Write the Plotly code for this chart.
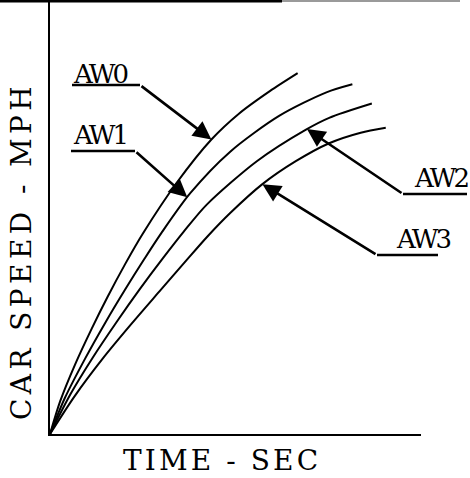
import numpy as np
import plotly.graph_objects as go

# Time (sec) and car speed (mph) for each load condition
t_aw0 = [0, 1.1, 2.7, 4.5, 6.2, 8.1, 10.0, 13.7, 17.4, 20.4, 23.7, 26.7]
v_aw0 = [0, 5.3, 11.2, 17.0, 22.1, 27.4, 32.3, 40.6, 47.5, 51.7, 55.3, 58.2]

t_aw1 = [0, 1.6, 3.8, 5.9, 8.1, 10.2, 12.0, 15.1, 19.4, 24.7, 29.8, 32.6]
v_aw1 = [0, 5.8, 12.2, 17.8, 23.3, 28.3, 32.4, 38.8, 45.5, 51.3, 55.1, 56.4]

t_aw2 = [0, 2.2, 4.6, 7.2, 9.7, 12.2, 14.4, 16.9, 22.3, 27.6, 30.1, 34.7]
v_aw2 = [0, 6.4, 12.3, 18.1, 23.4, 28.4, 32.6, 37.0, 44.0, 49.1, 51.0, 53.3]

t_aw3 = [0, 2.7, 5.7, 8.8, 11.8, 14.7, 17.0, 19.4, 22.9, 26.5, 30.1, 33.5, 36.2]
v_aw3 = [0, 6.2, 12.2, 17.8, 23.0, 28.0, 31.9, 35.6, 40.3, 44.0, 46.9, 48.6, 49.4]

series_names = ["AW0", "AW1", "AW2", "AW3"]
series_t = [t_aw0, t_aw1, t_aw2, t_aw3]
series_v = [v_aw0, v_aw1, v_aw2, v_aw3]

# Time on each curve where its label arrow points
label_tip_t = [17.4, 14.8, 27.7, 22.9]

X_TITLE = "TIME - SEC"
Y_TITLE = "CAR SPEED - MPH"

# ---- layout geometry (figure pixels) ----
W, H = 470, 478
ML, MR, MT, MB = 50, 49, 0, 44
X_RANGE = [0, 40]
Y_RANGE = [0, 70]
FONT = "DejaVu Serif, Liberation Serif, serif"


def px_to_paper(px, py):
    return (px - ML) / (W - ML - MR), (H - MB - py) / (H - MT - MB)


def px_to_data(px, py):
    xp, yp = px_to_paper(px, py)
    return (X_RANGE[0] + xp * (X_RANGE[1] - X_RANGE[0]),
            Y_RANGE[0] + yp * (Y_RANGE[1] - Y_RANGE[0]))


def spaced(text, px):
    return f'<span style="letter-spacing:{px}px">{text}</span>'


# label text left edge / vertical centre, underline start/end, underline y
label_boxes = [
    dict(text_x=71, text_y=74, ul_x0=72, ul_x1=140, ul_y=85, elbow="right"),
    dict(text_x=71, text_y=135, ul_x0=71, ul_x1=135, ul_y=151, elbow="right"),
    dict(text_x=412, text_y=178, ul_x0=403, ul_x1=467, ul_y=194, elbow="left"),
    dict(text_x=394, text_y=239, ul_x0=377, ul_x1=438, ul_y=255, elbow="left"),
]

fig = go.Figure()

for name, t, v in zip(series_names, series_t, series_v):
    fig.add_trace(go.Scatter(
        x=t, y=v, mode="lines", name=name, hoverinfo="skip",
        line=dict(color="black", width=2, shape="spline", smoothing=0.8),
    ))

annotations = []
shapes = []

for name, t, v, tip_t, box in zip(series_names, series_t, series_v,
                                  label_tip_t, label_boxes):
    tip_v = float(np.interp(tip_t, t, v))
    # label text
    tx, ty = px_to_paper(box["text_x"], box["text_y"])
    annotations.append(dict(
        text=spaced(name, -3), xref="paper", yref="paper", x=tx, y=ty,
        xanchor="left", yanchor="middle", showarrow=False,
        font=dict(family=FONT, size=26, color="black"),
    ))
    # underline
    x0, y0 = px_to_paper(box["ul_x0"], box["ul_y"])
    x1, y1 = px_to_paper(box["ul_x1"], box["ul_y"])
    shapes.append(dict(type="line", xref="paper", yref="paper",
                       x0=x0, y0=y0, x1=x1, y1=y1,
                       line=dict(color="black", width=2.5)))
    # leader from the underline end to the curve
    ex = box["ul_x1"] if box["elbow"] == "right" else box["ul_x0"]
    ax, ay = px_to_data(ex, box["ul_y"])
    annotations.append(dict(
        x=tip_t, y=tip_v, xref="x", yref="y",
        ax=ax, ay=ay, axref="x", ayref="y",
        showarrow=True, arrowhead=2, arrowsize=1.4, arrowwidth=2.6,
        arrowcolor="black", standoff=0, text="",
    ))

# axis titles
xt, yt = px_to_paper(222, 460)
annotations.append(dict(
    text=spaced(X_TITLE, 3.1), xref="paper", yref="paper", x=xt, y=yt,
    xanchor="center", yanchor="middle", showarrow=False,
    font=dict(family=FONT, size=28, color="black"),
))
xt, yt = px_to_paper(21, 251)
annotations.append(dict(
    text=spaced(Y_TITLE, 4.4), xref="paper", yref="paper", x=xt, y=yt,
    xanchor="center", yanchor="middle", showarrow=False, textangle=-90,
    font=dict(family=FONT, size=28, color="black"),
))

# border rule along the top edge
bx0, by = px_to_paper(0, 1)
bx1, _ = px_to_paper(282, 1)
bx2, _ = px_to_paper(460, 1)
shapes.append(dict(type="line", xref="paper", yref="paper",
                   x0=bx0, y0=by, x1=bx1, y1=by,
                   line=dict(color="black", width=3)))
shapes.append(dict(type="line", xref="paper", yref="paper",
                   x0=bx1, y0=by, x1=bx2, y1=by,
                   line=dict(color="#9a9a9a", width=2)))

axis_common = dict(showgrid=False, zeroline=False, showticklabels=False,
                   ticks="", showline=True, linecolor="black", linewidth=2,
                   fixedrange=True)

fig.update_layout(
    width=W, height=H,
    margin=dict(l=ML, r=MR, t=MT, b=MB),
    paper_bgcolor="white", plot_bgcolor="white",
    showlegend=False,
    xaxis=dict(range=X_RANGE, **axis_common),
    yaxis=dict(range=Y_RANGE, **axis_common),
    annotations=annotations,
    shapes=shapes,
)

fig.write_html("out.html", config=dict(displayModeBar=False))
